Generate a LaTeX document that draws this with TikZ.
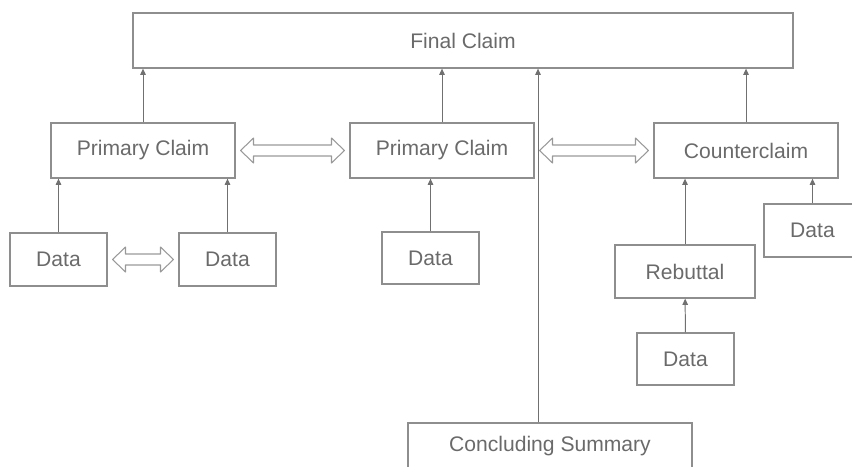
\documentclass[tikz,border=0pt]{standalone}
\usepackage{fontspec}
\setmainfont{Liberation Sans}
\usetikzlibrary{arrows.meta, positioning, calc}
\definecolor{boxgray}{HTML}{8E8E8E}
\definecolor{textgray}{HTML}{6A6A6A}
\definecolor{linkgray}{HTML}{707070}

\begin{document}
\begin{tikzpicture}[
  x=0.025cm, y=-0.025cm,
  claim/.style={draw=boxgray, line width=0.9pt, minimum width=4.6cm, minimum height=1.375cm,
                inner sep=0pt, font=\fontsize{15}{18}\selectfont, text=textgray},
  databox/.style={claim, minimum width=2.425cm, minimum height=1.325cm},
  arrow/.style={-{Triangle[length=4.5pt, width=4pt]}, line width=0.7pt, color=linkgray},
  % hollow block arrow with two heads
  twoway/.style={draw=boxgray!90, line width=0.75pt, line join=round, to path={
    let \p1=(\tikztostart.east), \p2=(\tikztotarget.west) in
    (\x1+3.5pt,\y1) -- ++(9.2pt,8.9pt) -- ++(0,-5pt) -- (\x2-12.7pt,\y1+3.9pt)
    -- ++(0,5pt) -- (\x2-3.5pt,\y1) -- ++(-9.2pt,-8.9pt) -- ++(0,5pt)
    -- (\x1+12.7pt,\y1-3.9pt) -- ++(0,-5pt) -- cycle}}
]
  \useasboundingbox (0,0) rectangle (852,466);

  % claims
  \node[claim, minimum width=16.5cm] (final) at (463, 40.5) {Final Claim};
  \node[claim] (pc1) at (143, 150.5) {Primary Claim};
  \node[claim] (pc2) at (442, 150.5) {Primary Claim};
  \node[claim] (counter) at (746, 150.5) {Counterclaim};
  \node[claim, minimum width=3.5cm, minimum height=1.325cm] (rebuttal) at (685, 271.5) {Rebuttal};
  \node[claim, minimum width=7.1cm, minimum height=1.15cm] (summary) at (550, 446) {Concluding Summary};

  % data
  \node[databox] (d1) at (58.5, 259.5) {Data};
  \node[databox] (d2) at (227.5, 259.5) {Data};
  \node[databox, minimum height=1.3cm] (d3) at (430.5, 258) {Data};
  \node[databox] (d4) at (812.5, 230.5) {Data};
  \node[databox, minimum height=1.3cm] (d5) at (685.5, 359) {Data};

  % support links
  \draw[arrow] (pc1) -- (pc1 |- final.south);
  \draw[arrow] (pc2) -- (pc2 |- final.south);
  \draw[arrow] (counter) -- (counter |- final.south);
  \draw[arrow] ([xshift=-0.3cm]summary.north) -- ([xshift=-0.3cm]summary.north |- final.south);
  \draw[arrow] (d1) -- (d1 |- pc1.south);
  \draw[arrow] (d2) -- (d2 |- pc1.south);
  \draw[arrow] (d3) -- (d3 |- pc2.south);
  \draw[arrow] (rebuttal) -- (rebuttal |- counter.south);
  \draw[arrow] (d4) -- (d4 |- counter.south);
  \draw[arrow] (d5) -- (rebuttal);

  % two-way links
  \draw[twoway] (pc1) to (pc2);
  \draw[twoway] (pc2) to (counter);
  \draw[twoway] (d1) to (d2);
\end{tikzpicture}
\end{document}
